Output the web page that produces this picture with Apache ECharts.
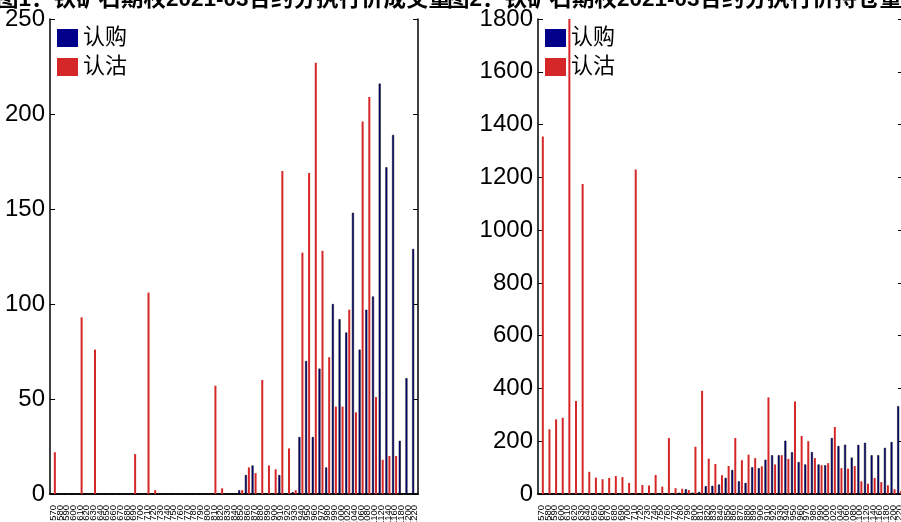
<!DOCTYPE html>
<html><head><meta charset="utf-8">
<script src="https://cdn.jsdelivr.net/npm/echarts@6/dist/echarts.min.js"></script>
<style>html,body{margin:0;padding:0;background:#fff;overflow:hidden}#c{width:901px;height:522px}</style>
</head><body><div id="c"></div>
<script>
const strikes = ['570','580','590','600','610','620','630','640','650','660','670','680','690','700','710','720','730','740','750','760','770','780','790','800','810','820','830','840','850','860','870','880','890','900','910','920','930','940','950','960','970','980','990','1000','1020','1040','1060','1080','1100','1120','1140','1160','1180','1200','1220'];
const volCall = [0,0,0,0,0,0,0,0,0,0,0,0,0,0,0,0,0,0,0,0,0,0,0,0,0,0,0,0,2,10,15,0,0,0,10,0,1,30,70,30,66,14,100,92,85,148,76,97,104,216,172,189,28,61,129];
const volPut = [22,0,0,0,93,0,76,0,0,0,0,0,21,0,106,2,0,0,0,0,0,0,0,0,57,3,0,0,2,14,11,60,15,13,170,24,2,127,169,227,128,72,46,46,97,43,196,209,51,18,20,20,0,0,0];
const oiCall = [0,0,0,0,0,0,0,0,0,0,0,0,0,0,0,0,0,0,0,0,3,5,18,5,8,30,31,36,61,91,48,42,101,98,130,147,147,202,158,121,112,159,112,109,212,182,187,138,186,194,147,147,175,197,333];
const oiPut = [1355,245,283,289,1900,352,1175,84,62,56,61,68,64,42,1230,34,32,72,28,212,22,20,15,179,391,134,114,71,106,212,128,149,136,105,366,112,147,133,351,220,200,136,109,117,254,98,96,106,48,39,61,45,33,18,11];
const titles = ['图1：铁矿石期权2021-03合约分执行价成交量', '图2：铁矿石期权2021-03合约分执行价持仓量'];
const seriesNames = ['认购', '认沽'];
const volTicks = {min: 0, max: 250, interval: 50};
const oiTicks = {min: 0, max: 1800, interval: 200};

const FONT = "'Liberation Sans', Arial, 'Noto Sans CJK SC', sans-serif";
const BLUE = '#00008b', RED = '#d62728';
const chart = echarts.init(document.getElementById('c'), null, {renderer: 'canvas'});

const grids = [
  {left: 50, right: 483, top: 19, bottom: 28, containLabel: false, outerBoundsMode: 'none'},
  {left: 538, right: -2, top: 19, bottom: 28, containLabel: false, outerBoundsMode: 'none'}
];
function xAxes(gi) {
  return [
    {type: 'category', gridIndex: gi, data: strikes, position: 'bottom', boundaryGap: true,
     axisLine: {lineStyle: {color: '#000', width: 1.5}},
     axisTick: {inside: true, length: 4.5, alignWithLabel: true, interval: 0, lineStyle: {color: '#000', width: 1}},
     axisLabel: {interval: 0, rotate: 90, fontSize: 9.5, color: '#000', margin: 11, fontFamily: FONT}},
    {type: 'category', gridIndex: gi, data: strikes, position: 'top', boundaryGap: true,
     axisLine: {lineStyle: {color: '#000', width: 1.5}},
     axisTick: {inside: true, length: 4.5, alignWithLabel: true, interval: 0, lineStyle: {color: '#000', width: 1}},
     axisLabel: {show: false}}
  ];
}
function yAxes(gi, t) {
  return [
    {type: 'value', gridIndex: gi, position: 'left', min: t.min, max: t.max, interval: t.interval,
     splitLine: {show: false},
     axisLine: {show: true, lineStyle: {color: '#000', width: 1.5}},
     axisTick: {show: true, inside: true, length: 5, lineStyle: {color: '#000', width: 1}},
     axisLabel: {fontSize: 24, color: '#000', margin: 5, fontFamily: FONT, formatter: v => String(v)}},
    {type: 'value', gridIndex: gi, position: 'right', min: t.min, max: t.max, interval: t.interval,
     splitLine: {show: false},
     axisLine: {show: true, lineStyle: {color: '#000', width: 1.5}},
     axisTick: {show: true, inside: true, length: 5, lineStyle: {color: '#000', width: 1}},
     axisLabel: {show: false}}
  ];
}
function barSeries(name, data, xi, yi, color, border) {
  return {type: 'bar', name: name, data: data, xAxisIndex: xi, yAxisIndex: yi,
    barWidth: 2, barGap: '50%', clip: true, animation: false, z: 1,
    itemStyle: {color: color, borderColor: border ? '#000' : color, borderWidth: border ? 0.5 : 0}};
}
function legend(left) {
  return {data: seriesNames, orient: 'vertical', left: left, top: 27, padding: 0, itemWidth: 21, itemHeight: 18, itemGap: 7,
    icon: 'rect', textStyle: {fontSize: 22, color: '#000', fontFamily: FONT},
    itemStyle: {borderWidth: 0}, selectedMode: false};
}
chart.setOption({
  backgroundColor: '#fff',
  animation: false,
  title: [
    {text: titles[0], left: -4, top: -11, padding: 0, textStyle: {fontSize: 22.5, fontWeight: 'bold', color: '#000', fontFamily: FONT}},
    {text: titles[1], left: 447, top: -11, padding: 0, textStyle: {fontSize: 22.5, fontWeight: 'bold', color: '#000', fontFamily: FONT}}
  ],
  legend: [legend(57), legend(545)],
  grid: grids,
  xAxis: [...xAxes(0), ...xAxes(1)],
  yAxis: [...yAxes(0, volTicks), ...yAxes(1, oiTicks)],
  series: [
    barSeries(seriesNames[0], volCall, 0, 0, BLUE, true),
    barSeries(seriesNames[1], volPut, 0, 0, RED, false),
    barSeries(seriesNames[0], oiCall, 2, 2, BLUE, true),
    barSeries(seriesNames[1], oiPut, 2, 2, RED, false)
  ]
});
</script></body></html>
